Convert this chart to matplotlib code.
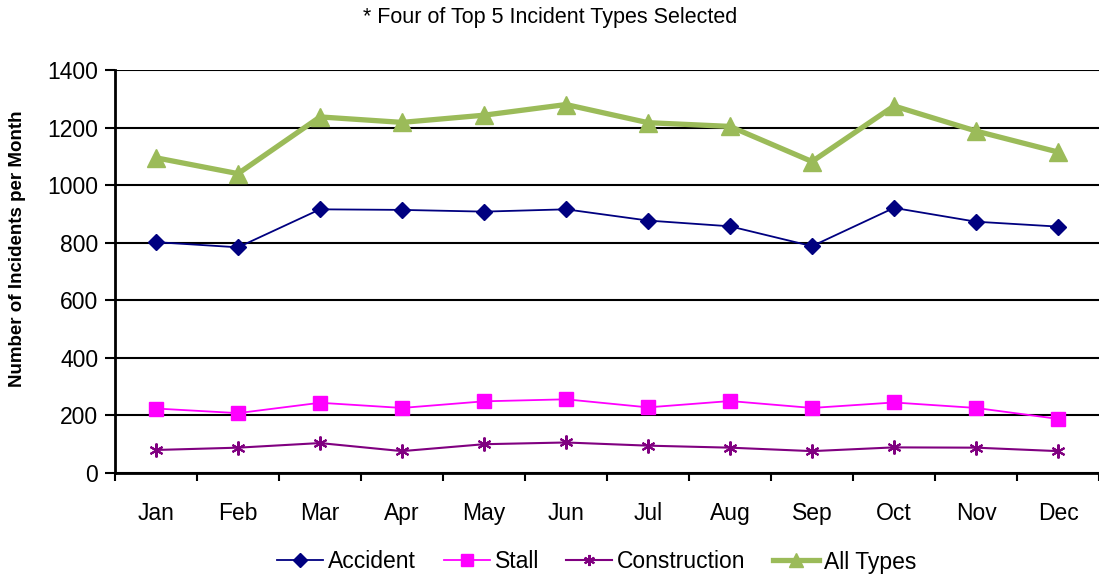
import matplotlib
matplotlib.use("Agg")
import matplotlib.pyplot as plt
from matplotlib.ticker import FixedLocator, NullFormatter

plt.rcParams['font.family'] = ['Liberation Sans', 'DejaVu Sans']

months = ["Jan", "Feb", "Mar", "Apr", "May", "Jun", "Jul", "Aug", "Sep", "Oct", "Nov", "Dec"]
accident = [802, 784, 916, 914, 908, 916, 877, 857, 788, 921, 873, 856]
stall = [224, 208, 244, 226, 249, 256, 228, 250, 226, 245, 226, 188]
construction = [80, 88, 104, 76, 100, 106, 95, 88, 76, 89, 88, 76]
all_types = [1095, 1040, 1237, 1218, 1243, 1280, 1217, 1204, 1082, 1275, 1188, 1115]
yticks = [0, 200, 400, 600, 800, 1000, 1200, 1400]

fig = plt.figure(figsize=(10.99, 5.8), dpi=100)
ax = fig.add_axes([115/1099, 1-473/580, 1-115/1099, (473-70)/580])

x = list(range(len(months)))
ax.plot(x, accident, color='#000080', lw=1.3, marker='D', ms=8.5, label='Accident', zorder=4)
ax.plot(x, stall, color='#FF00FF', lw=1.3, marker='s', ms=10, label='Stall', zorder=4)
ax.plot(x, construction, color='#800080', lw=1.5, marker=(6, 2, 0), ms=10, mew=1.5, label='Construction', zorder=4)
ax.plot(x, all_types, color='#9BBB59', lw=3.8, marker='^', ms=13, label='All Types', zorder=3)

ax.set_ylim(0, 1400)
ax.set_xlim(-0.5, 11.5)
ax.set_yticks(yticks)
ax.set_yticklabels([str(v) for v in yticks], fontsize=16.5)
ax.yaxis.grid(True, color='black', lw=1.5)
ax.set_axisbelow(True)

ax.xaxis.set_major_locator(FixedLocator([i - 0.5 for i in range(13)]))
ax.xaxis.set_major_formatter(NullFormatter())
ax.xaxis.set_minor_locator(FixedLocator(x))
ax.set_xticklabels(months, minor=True, fontsize=16.5)
ax.tick_params(axis='x', which='minor', length=0, pad=21)
ax.tick_params(axis='x', which='major', length=6, width=1.5, direction='out')
ax.tick_params(axis='y', length=7, width=1.5, direction='out', pad=5)

for s in ['top', 'right']:
    ax.spines[s].set_visible(False)
for s in ['left', 'bottom']:
    ax.spines[s].set_linewidth(2)
    ax.spines[s].set_color('black')

fig.text(18/1099, 1-249/580, "Number of Incidents per Month", rotation=90, ha='center', va='center',
         fontsize=13.5, fontweight='bold')
fig.text(550/1099, 1-17/580, "* Four of Top 5 Incident Types Selected", ha='center', va='center', fontsize=15.5)

fig.legend(loc='center', bbox_to_anchor=(597/1099, 1-562/580), ncol=4, frameon=False,
           fontsize=16.5, handlelength=2.0, columnspacing=1.2, handletextpad=0.22, markerscale=0.8)

fig.savefig("out.png", dpi=100)
